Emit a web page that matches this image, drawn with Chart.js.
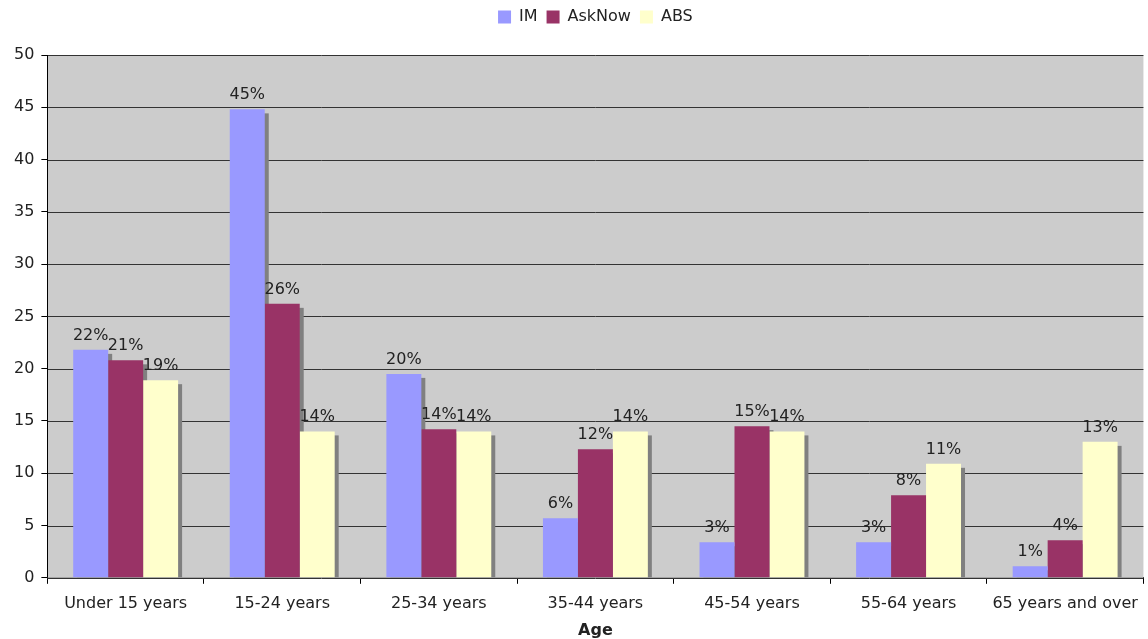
<!DOCTYPE html>
<html>
<head>
<meta charset="utf-8">
<script src="https://cdn.jsdelivr.net/npm/chart.js@4"></script>
<style>
  body { margin: 0; background: #fff; }
  #wrap { width: 1148px; height: 639px; }
</style>
</head>
<body>
<div id="wrap"><canvas id="ageChart" width="1148" height="639"></canvas></div>
<script>
const categories = ['Under 15 years', '15-24 years', '25-34 years', '35-44 years', '45-54 years', '55-64 years', '65 years and over'];
const imValues = [21.8, 44.8, 19.5, 5.7, 3.4, 3.4, 1.1];
const askNowValues = [20.8, 26.2, 14.2, 12.3, 14.5, 7.9, 3.6];
const absValues = [18.9, 14.0, 14.0, 14.0, 14.0, 10.9, 13.0];
const yTicks = [0, 5, 10, 15, 20, 25, 30, 35, 40, 45, 50];

const font = 'Verdana, "DejaVu Sans", sans-serif';

// extra room under the legend, and legend centred over the plot area
const legendGap = {
    id: 'legendGap',
    beforeInit(chart) {
        const fit = chart.legend.fit;
        chart.legend.fit = function () {
            fit.bind(chart.legend)();
            this.height += 20;
        };
    },
    afterLayout(chart) {
        chart.legend.left = chart.chartArea.left;
        chart.legend.right = chart.chartArea.right;
    }
};

// grey plot background, grid, bar shadows and value labels
const plotBg = {
    id: 'plotBg',
    beforeDatasetsDraw(chart) {
        const { ctx, chartArea } = chart;
        ctx.save();
        ctx.fillStyle = '#CCCCCC';
        ctx.fillRect(chartArea.left, chartArea.top, chartArea.right - chartArea.left, chartArea.bottom - chartArea.top);
        const y = chart.scales.y;
        ctx.strokeStyle = '#333333';
        ctx.lineWidth = 1;
        yTicks.forEach(v => {
            const py = Math.round(y.getPixelForValue(v)) + 0.5;
            ctx.beginPath();
            ctx.moveTo(chartArea.left, py);
            ctx.lineTo(chartArea.right, py);
            ctx.stroke();
        });
        ctx.fillStyle = '#808080';
        chart.data.datasets.forEach((ds, i) => {
            chart.getDatasetMeta(i).data.forEach(bar => {
                const w = bar.width;
                ctx.fillRect(bar.x - w / 2 + 4, bar.y + 4, w, bar.base - bar.y - 4);
            });
        });
        ctx.restore();
    },
    afterDatasetsDraw(chart) {
        const { ctx } = chart;
        ctx.save();
        ctx.font = '16px ' + font;
        ctx.fillStyle = '#222';
        ctx.textAlign = 'center';
        ctx.textBaseline = 'alphabetic';
        chart.data.datasets.forEach((ds, i) => {
            chart.getDatasetMeta(i).data.forEach((bar, j) => {
                ctx.fillText(Math.round(ds.data[j]) + '%', bar.x, bar.y - 10);
            });
        });
        const a = chart.chartArea;
        ctx.strokeStyle = '#000';
        ctx.lineWidth = 1;
        ctx.beginPath();
        ctx.moveTo(Math.round(a.left) + 0.5, a.top);
        ctx.lineTo(Math.round(a.left) + 0.5, a.bottom);
        ctx.stroke();
        ctx.restore();
    }
};

new Chart(document.getElementById('ageChart').getContext('2d'), {
    type: 'bar',
    data: {
        labels: categories,
        datasets: [
            { label: 'IM', data: imValues, backgroundColor: '#9999FF' },
            { label: 'AskNow', data: askNowValues, backgroundColor: '#993366' },
            { label: 'ABS', data: absValues, backgroundColor: '#FFFFCC' }
        ]
    },
    options: {
        responsive: false,
        animation: false,
        devicePixelRatio: 1,
        datasets: {
            bar: { categoryPercentage: 0.67, barPercentage: 1.0 }
        },
        layout: { padding: { left: 7, right: 2, top: 0, bottom: 0 } },
        plugins: {
            legend: {
                position: 'top',
                labels: {
                    font: { family: font, size: 16 },
                    color: '#222',
                    boxWidth: 13,
                    boxHeight: 13,
                    padding: 9
                }
            },
            tooltip: { enabled: false }
        },
        scales: {
            x: {
                grid: { drawOnChartArea: false, offset: true, tickLength: 6, color: '#000' },
                border: { color: '#000' },
                ticks: { font: { family: font, size: 16 }, color: '#222', maxRotation: 0, padding: 10 },
                title: { display: true, text: 'Age', font: { family: font, size: 16, weight: 'bold', lineHeight: 1.0 }, color: '#222', padding: { top: 0, bottom: 0 } }
            },
            y: {
                min: 0,
                max: 50,
                afterBuildTicks(axis) { axis.ticks = yTicks.map(v => ({ value: v })); },
                grid: { drawOnChartArea: false, tickLength: 6, color: '#000' },
                border: { color: '#000' },
                ticks: { font: { family: font, size: 16 }, color: '#222', padding: 7 }
            }
        }
    },
    plugins: [plotBg, legendGap]
});
</script>
</body>
</html>
